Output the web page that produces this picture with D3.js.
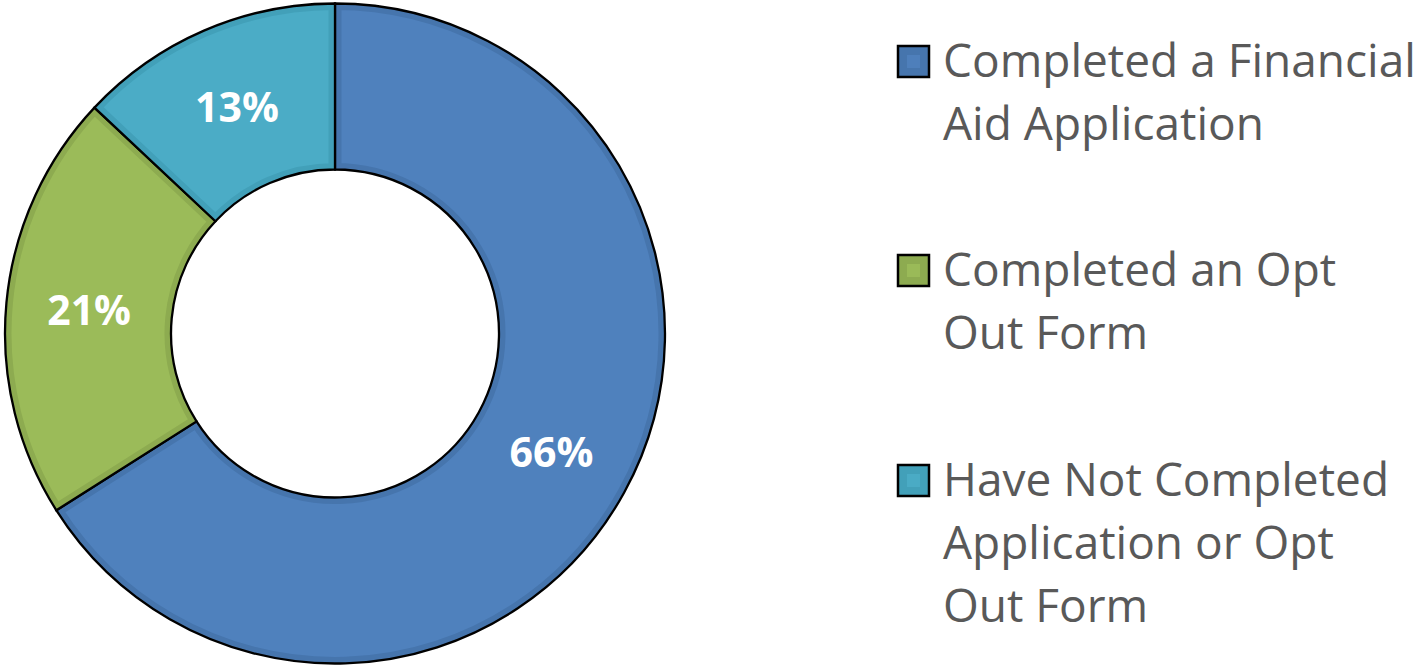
<!DOCTYPE html>
<meta charset="utf-8">
<style>
    body { margin: 0; background: #fff; }
    .label { font: bold 41px "Open Sans", sans-serif; fill: #fff; }
    .legend text { font: 46px "Open Sans", sans-serif; fill: #595959; }
</style>
<svg class="chart"></svg>
<script src="https://d3js.org/d3.v7.min.js"></script>
<script>

    // data
    var categories = ["Completed a Financial Aid Application", "Completed an Opt Out Form", "Have Not Completed Application or Opt Out Form"];
    var values = [66, 21, 13];
    var legendLines = [
        ["Completed a Financial", "Aid Application"],
        ["Completed an Opt", "Out Form"],
        ["Have Not Completed", "Application or Opt", "Out Form"]
    ];
    var colors = ["#4f81bd", "#9bbb59", "#4bacc6"];
    var edgeColors = ["#4675ad", "#8dab50", "#42a0b9"];

    var width = 1422, height = 668,
        cx = 335, cy = 333.5,
        outerR = 330, innerR = 164;

    var svg = d3.select(".chart")
        .attr("width", width)
        .attr("height", height);

    var data = categories.map(function (c, i) {
        return {name: c, value: values[i], i: i};
    });

    var pie = d3.pie()
        .sort(null)
        .value(function (d) { return d.value; });

    var arc = d3.arc()
        .innerRadius(innerR)
        .outerRadius(outerR);

    var arcs = pie(data);

    var defs = svg.append("defs");
    defs.selectAll("clipPath")
        .data(arcs)
        .enter().append("clipPath")
        .attr("id", function (d) { return "clip" + d.data.i; })
        .append("path")
        .attr("d", arc);

    var chart = svg.append("g")
        .attr("transform", "translate(" + cx + "," + cy + ")");

    var slice = chart.selectAll(".slice")
        .data(arcs)
        .enter().append("g")
        .attr("class", "slice");

    // fill with darker inner edge (only inside half of stroke shows)
    slice.append("path")
        .attr("d", arc)
        .attr("fill", function (d) { return colors[d.data.i]; })
        .attr("stroke", function (d) { return edgeColors[d.data.i]; })
        .attr("stroke-width", 13)
        .attr("clip-path", function (d) { return "url(#clip" + d.data.i + ")"; });

    slice.append("path")
        .attr("d", arc)
        .attr("fill", "none")
        .attr("stroke", "#000")
        .attr("stroke-width", 2.3);

    chart.selectAll(".label")
        .data(arcs)
        .enter().append("text")
        .attr("class", "label")
        .attr("transform", function (d) {
            var c = arc.centroid(d);
            return "translate(" + c[0] + "," + c[1] + ")";
        })
        .attr("text-anchor", "middle")
        .attr("dy", "0.36em")
        .text(function (d) { return d.data.value + "%"; });

    // legend
    var itemY = [61, 270, 480];
    var lineH = 63;

    var legend = svg.append("g")
        .attr("class", "legend")
        .attr("transform", "translate(897,0)");

    var item = legend.selectAll(".item")
        .data(data)
        .enter().append("g")
        .attr("class", "item")
        .attr("transform", function (d) { return "translate(0," + itemY[d.i] + ")"; });

    item.append("rect")
        .attr("x", 1).attr("y", -15)
        .attr("width", 31).attr("height", 31)
        .attr("fill", function (d) { return edgeColors[d.i]; })
        .attr("stroke", "#000")
        .attr("stroke-width", 2.5);

    item.append("rect")
        .attr("x", 10).attr("y", -6)
        .attr("width", 13).attr("height", 13)
        .attr("fill", function (d) { return colors[d.i]; })
        .attr("opacity", 0.9);

    item.append("text")
        .selectAll("tspan")
        .data(function (d) { return legendLines[d.i]; })
        .enter().append("tspan")
        .attr("x", 46)
        .attr("y", function (d, j) { return 16 + j * lineH; })
        .text(function (d) { return d; });

</script>
